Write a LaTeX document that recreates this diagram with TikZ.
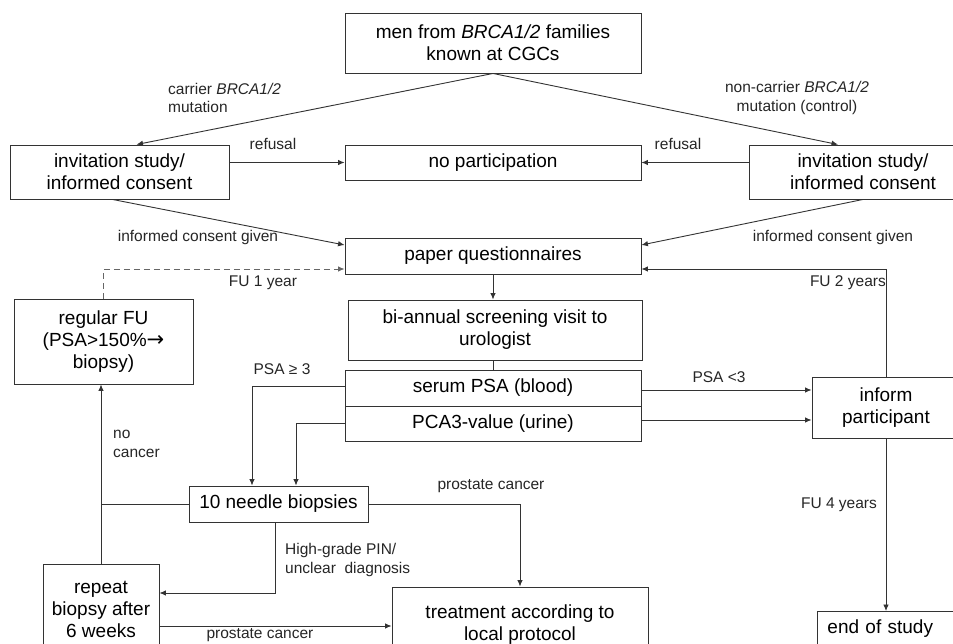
\documentclass[tikz,border=0pt]{standalone}
\usepackage{fontspec}
\setmainfont{Liberation Sans}
\newfontfamily\dejavu{DejaVu Sans}
\usetikzlibrary{arrows.meta}
\begin{document}
\begin{tikzpicture}[x=1pt,y=-1pt,
  box/.style={draw=black!80,line width=0.9pt,align=center,inner sep=2pt,
    font=\fontsize{19}{22}\selectfont},
  lab/.style={font=\fontsize{15.5}{18.5}\selectfont,inner sep=1pt,text=black!85},
  conn/.style={draw=black!80,line width=0.9pt},
  arr/.style={conn,-{Latex[length=6.5pt,width=5.5pt]}}]
\clip (0,0) rectangle (953,644);
\fill[white] (0,0) rectangle (953,644);
% boxes
\node[box,minimum width=296,minimum height=60] (top) at (493,43) {men from \textit{BRCA1/2} families\\known at CGCs};
\node[box,minimum width=219,minimum height=54] (invL) at (119.5,172) {invitation study/\\informed consent};
\node[box,minimum width=296,minimum height=35] (nopart) at (493,162.5) {no participation};
\node[box,minimum width=228,minimum height=54] (invR) at (863,172) {invitation study/\\informed consent};
\node[box,minimum width=296,minimum height=36] (paper) at (493,256) {paper questionnaires};
\node[box,minimum width=179,minimum height=85] (regFU) at (103.5,341.5) {regular FU\\(PSA>150\%{\dejavu\fontsize{21}{22}\selectfont →}\\biopsy)};
\node[box,minimum width=294,minimum height=60] (bian) at (495,330) {bi-annual screening visit to\\urologist};
\node[box,minimum width=296,minimum height=36] (serum) at (493,388) {serum PSA (blood)};
\node[box,minimum width=296,minimum height=35] (pca3) at (493,423.5) {PCA3-value (urine)};
\node[box,minimum width=179,minimum height=36] (needle) at (278.5,504) {10 needle biopsies};
\node[box,minimum width=148,minimum height=61] (inform) at (886,407.5) {inform\\participant};
\node[box,minimum width=116,minimum height=90] (repeat) at (101,609) {repeat\\biopsy after\\6 weeks};
\node[box,minimum width=256,minimum height=75] (treat) at (520,624.5) {treatment according to\\local protocol};
\node[box,minimum width=160,minimum height=34,anchor=north west,align=left,text width=140,inner xsep=9pt] (endst) at (817,611) {end of study};
% helper coordinates
\coordinate (s1) at ([yshift=-2]serum.east);
\coordinate (p1) at ([yshift=3.5]pca3.east);
\coordinate (r1) at ([yshift=-17]repeat.east);
% connectors
\draw[arr] (top.south) -- ([xshift=17]invL.north);
\draw[arr] (top.south) -- ([xshift=-25]invR.north);
\draw[arr] (invL.east |- nopart.west) -- (nopart.west);
\draw[arr] (invR.west |- nopart.east) -- (nopart.east);
\draw[arr] ([xshift=-7]invL.south) -- ([yshift=11]paper.west);
\draw[arr] (invR.south) -- ([yshift=11]paper.east);
\draw[arr,dashed,dash pattern=on 6pt off 4pt,draw=black!60] (regFU.north) |- ([yshift=-13]paper.west);
\draw[arr] (inform.north) |- ([yshift=-13]paper.east);
\draw[arr] (paper.south) -- (paper.south |- bian.north);
\draw[conn] (paper.south |- bian.south) -- (paper.south |- serum.north);
\draw[arr] ([yshift=2]serum.west) -| ([xshift=-26.5]needle.north);
\draw[arr] (pca3.west) -| ([xshift=17.5]needle.north);
\draw[arr] (s1) -- (s1 -| inform.west);
\draw[arr] (p1) -- (p1 -| inform.west);
\draw[arr] (needle.east) -| (treat.north);
\draw[conn] (needle.west) -- (needle.west -| repeat.north);
\draw[arr] (repeat.north) -- (repeat.north |- regFU.south);
\draw[arr] ([xshift=-3.5]needle.south) |- ([yshift=16]repeat.east);
\draw[arr] (r1) -- (r1 -| treat.west);
\draw[arr] (inform.south) -- (inform.south |- endst.north);
% labels
\node[lab,anchor=west,align=left] (lcar) at (167,98) {carrier \textit{BRCA1/2}\\mutation};
\node[lab,align=center] (lnon) at (797,98) {non-carrier \textit{BRCA1/2}\\mutation (control)};
\node[lab] (lref1) at (273,144) {refusal};
\node[lab] (lref2) at (678,144) {refusal};
\node[lab] (licg1) at (198,237) {informed consent given};
\node[lab] (licg2) at (833,237) {informed consent given};
\node[lab] (lfu1) at (263,283) {FU 1 year};
\node[lab,anchor=east] (lfu2) at (887,283) {FU 2 years};
\node[lab] (lpsa1) at (282,369) {PSA ≥ 3};
\node[lab] (lpsa2) at (719,377) {PSA <3};
\node[lab,anchor=west,align=left] (lnoc) at (112,444) {no\\cancer};
\node[lab] (lpc1) at (491,486) {prostate cancer};
\node[lab,anchor=west,align=left] (lhg) at (284,560) {High-grade PIN/\\unclear\ \ diagnosis};
\node[lab] (lpc2) at (260,635) {prostate cancer};
\node[lab] (lfu4) at (839,505) {FU 4 years};
\end{tikzpicture}
\end{document}
